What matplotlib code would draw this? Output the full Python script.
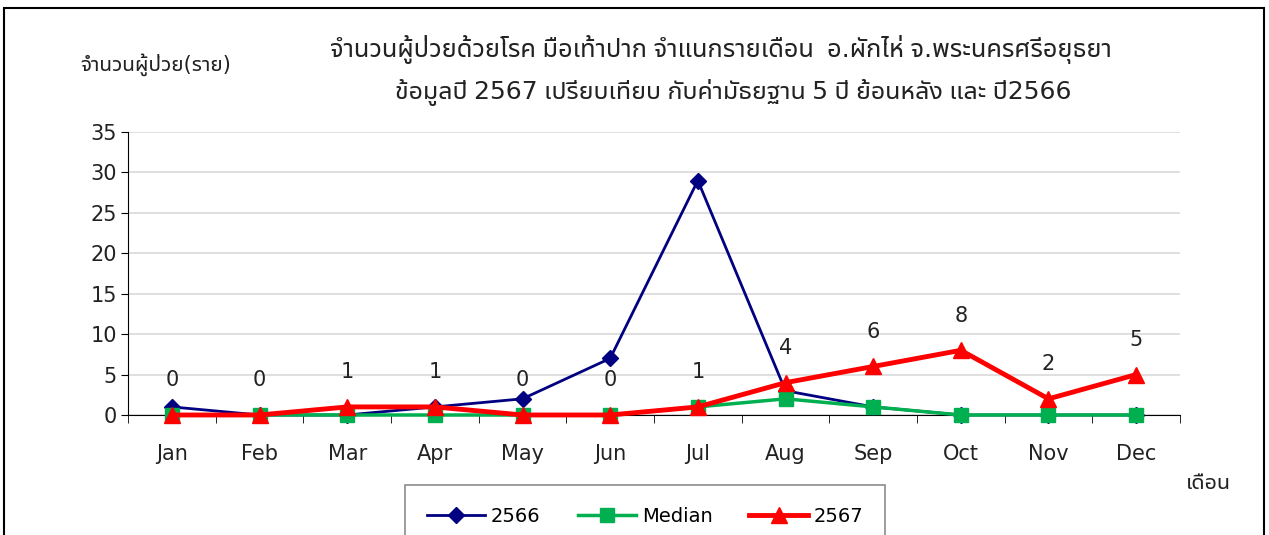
import matplotlib
matplotlib.use('Agg')
import matplotlib.pyplot as plt
from matplotlib import font_manager
from matplotlib.ft2font import FT2Font
from matplotlib.patches import Rectangle

# data
months = ['Jan', 'Feb', 'Mar', 'Apr', 'May', 'Jun', 'Jul', 'Aug', 'Sep', 'Oct', 'Nov', 'Dec']
y2566 = [1, 0, 0, 1, 2, 7, 29, 3, 1, 0, 0, 0]
median = [0, 0, 0, 0, 0, 0, 1, 2, 1, 0, 0, 0]
y2567 = [0, 0, 1, 1, 0, 0, 1, 4, 6, 8, 2, 5]
yticks = [0, 5, 10, 15, 20, 25, 30, 35]

title1 = 'จำนวนผู้ป่วยด้วยโรค มือเท้าปาก จำแนกรายเดือน  อ.ผักไห่ จ.พระนครศรีอยุธยา'
title2 = 'ข้อมูลปี 2567 เปรียบเทียบ กับค่ามัธยฐาน 5 ปี ย้อนหลัง และ ปี2566'
ylab = 'จำนวนผู้ป่วย(ราย)'
xlab = 'เดือน'

# find fonts that have Thai glyphs, prefer loopless ones
thai = []
for f in font_manager.fontManager.ttflist:
    try:
        cmap = FT2Font(f.fname).get_charmap()
    except Exception:
        continue
    if 0x0E08 in cmap and 0x0E33 in cmap and f.name not in thai:
        thai.append(f.name)

def rank(n):
    n2 = n.lower()
    if 'noto sans thai' in n2 and 'looped' not in n2:
        return 0
    if 'sarabun' in n2 or 'leelawadee' in n2:
        return 1
    if 'noto' in n2:
        return 2
    return 3

thai.sort(key=rank)
fams = thai[:1] + ['DejaVu Sans']
plt.rcParams['font.family'] = fams

fig = plt.figure(figsize=(12.69, 5.35), dpi=100)
ax = fig.add_axes([128/1269, 1-415/535, (1180-128)/1269, (415-132)/535])

x = list(range(len(months)))
ax.plot(x, y2566, color='#000080', lw=2, marker='D', ms=8, label='2566', zorder=3, clip_on=False)
ax.plot(x, median, color='#00B050', lw=2.5, marker='s', ms=10, label='Median', zorder=4, clip_on=False)
ax.plot(x, y2567, color='#FF0000', lw=3.5, marker='^', ms=12, label='2567', zorder=5, clip_on=False)

for i, v in enumerate(y2567):
    ax.annotate(str(v), (i, v), xytext=(0, 25), textcoords='offset points',
                ha='center', va='center', fontsize=15, color='#222222')

ax.set_xlim(-0.5, 11.5)
ax.set_ylim(0, 35)
ax.set_yticks(yticks)
ax.set_xticks(x)
ax.set_xticklabels(months)
ax.set_xticks([i - 0.5 for i in range(13)], minor=True)
ax.tick_params(axis='x', which='major', length=0, pad=21, labelsize=15, labelcolor='#222222')
ax.tick_params(axis='x', which='minor', length=6, direction='out', color='black')
ax.tick_params(axis='y', length=5, direction='out', labelsize=15, labelcolor='#222222', pad=3)
ax.grid(axis='y', color='#d9d9d9', lw=1.2)
ax.set_axisbelow(True)
for s in ['top', 'right']:
    ax.spines[s].set_visible(False)
for s in ['left', 'bottom']:
    ax.spines[s].set_color('black')

fig.text(721/1269, 1-50/535, title1, ha='center', va='center', fontsize=18.3, color='#222222')
fig.text(733/1269, 1-93/535, title2, ha='center', va='center', fontsize=18, color='#222222')
fig.text(156/1269, 1-65/535, ylab, ha='center', va='center', fontsize=15, color='#222222')
fig.text(1208/1269, 1-483/535, xlab, ha='center', va='center', fontsize=15.5, color='#222222')

leg = fig.legend(loc='center', bbox_to_anchor=(645/1269, 1-516/535), ncol=3, frameon=True,
                 fancybox=False, edgecolor='#707070', fontsize=14, handlelength=3.0,
                 handletextpad=0.3, columnspacing=1.9, borderpad=1.1)
leg.get_frame().set_linewidth(1.2)

fig.patches.append(Rectangle((4/1269, -0.05), (1264-4)/1269, 1-8/535+0.05,
                             transform=fig.transFigure, fill=False, edgecolor='black', lw=1.5))

fig.savefig('out.png', dpi=100)
